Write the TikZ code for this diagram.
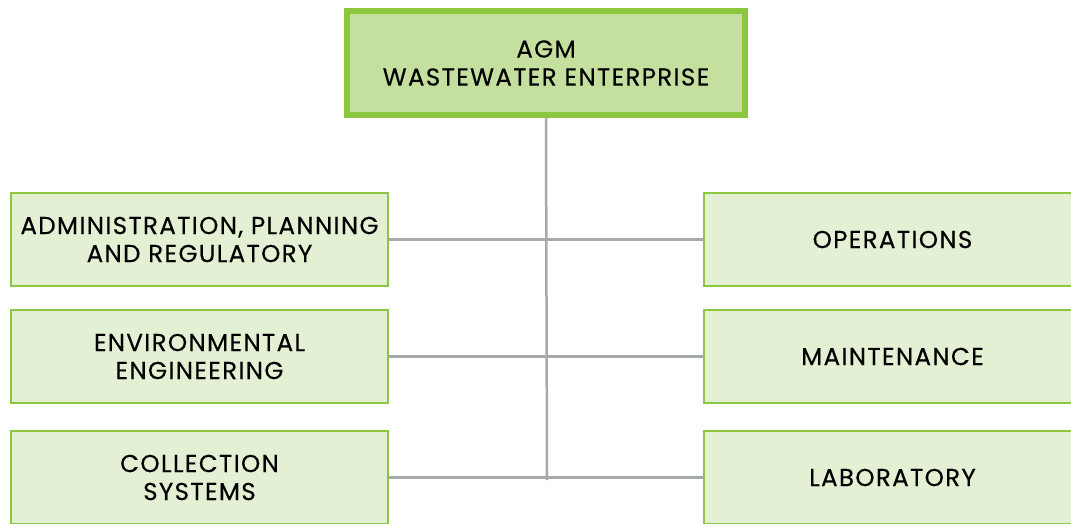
\documentclass[tikz,border=0pt]{standalone}
\usepackage{fontspec}
\setmainfont{Poppins}[LetterSpace=5.5, FakeBold=0.3]
\definecolor{leafgreen}{HTML}{8DC63F}
\definecolor{topfill}{HTML}{C5E09E}
\definecolor{unitfill}{HTML}{E3F0D4}
\definecolor{linkgray}{HTML}{A7A9AC}
\tikzset{
  head/.style={draw=leafgreen, line width=6pt, fill=topfill, minimum width=398pt,
    minimum height=104pt, align=center, font=\fontsize{24.5}{28}\selectfont},
  unit/.style={draw=leafgreen, line width=2pt, fill=unitfill, minimum width=377pt,
    minimum height=93pt, align=center, font=\fontsize{24.5}{28}\selectfont},
  link/.style={draw=linkgray, line width=2.5pt}
}
\begin{document}
\begin{tikzpicture}[x=1pt, y=-1pt]
  \useasboundingbox (0,0) rectangle (1071,523);
  \coordinate (spine) at (547,480);
  \node[head] (agm) at (546,63) {AGM\\WASTEWATER ENTERPRISE};
  \node[unit] (admin) at (199.5,239.5) {ADMINISTRATION, PLANNING\\AND REGULATORY};
  \node[unit] (env) at (199.5,356.5) {ENVIRONMENTAL\\ENGINEERING};
  \node[unit] (coll) at (199.5,477.5) {COLLECTION\\SYSTEMS};
  \node[unit] (ops) at (892.5,239.5) {OPERATIONS};
  \node[unit] (maint) at (892.5,356.5) {MAINTENANCE};
  \node[unit] (lab) at (892.5,477.5) {LABORATORY};
  % gray connectors
  \draw[link] (agm.south) -- (spine);
  \draw[link] (admin.east) -- (ops.west);
  \draw[link] (env.east) -- (maint.west);
  \draw[link] (coll.east) -- (lab.west);
\end{tikzpicture}
\end{document}
